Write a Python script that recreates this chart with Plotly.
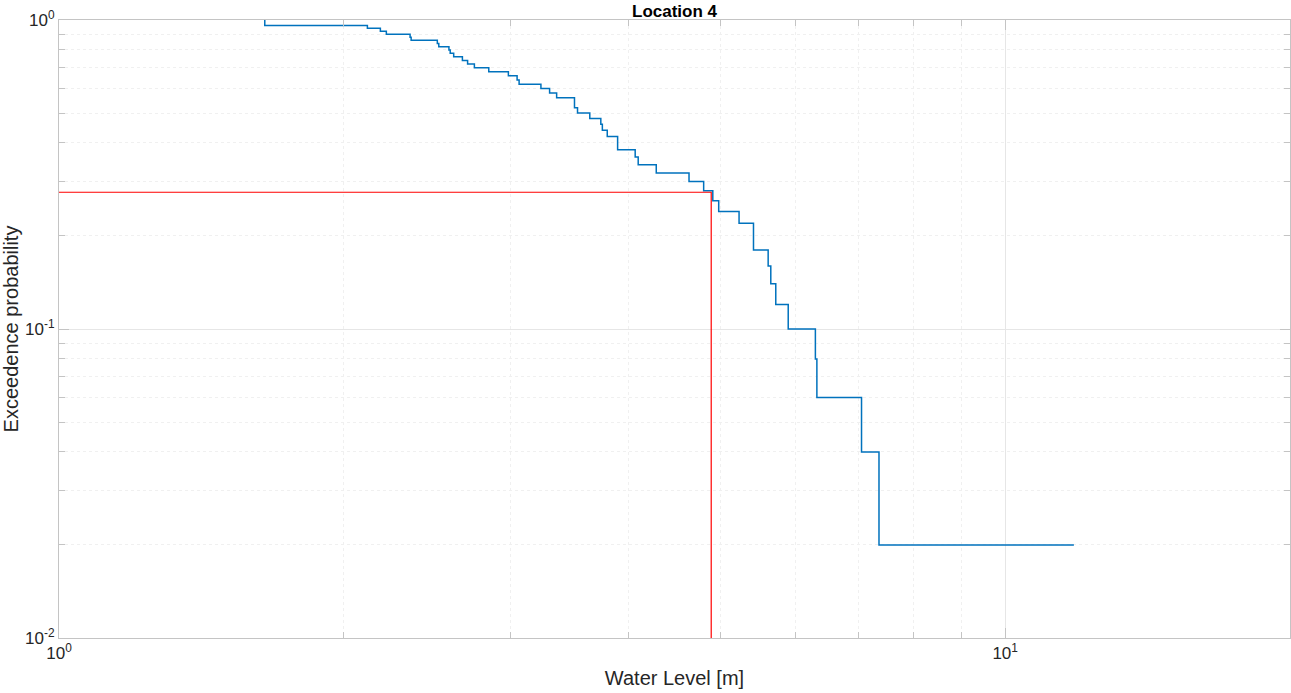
import plotly.graph_objects as go

# sorted water levels [m] and their exceedance probability (stairs, MATLAB style)
water_level = [1.650, 1.650, 2.118, 2.186, 2.218, 2.350, 2.356, 2.511, 2.520, 2.583,
               2.591, 2.613, 2.669, 2.703, 2.748, 2.846, 2.985, 3.049, 3.064, 3.231,
               3.300, 3.357, 3.506, 3.532, 3.639, 3.738, 3.752, 3.797, 3.894, 4.064,
               4.094, 4.278, 4.633, 4.801, 4.909, 4.980, 5.233, 5.420, 5.617, 5.653,
               5.722, 5.898, 6.301, 6.324, 7.050, 7.356, 11.82]
exceed_prob = [1.00, 0.96, 0.94, 0.92, 0.90, 0.88, 0.86, 0.84, 0.82, 0.80,
               0.78, 0.76, 0.74, 0.72, 0.70, 0.68, 0.66, 0.64, 0.62, 0.60,
               0.58, 0.56, 0.52, 0.50, 0.48, 0.46, 0.44, 0.42, 0.38, 0.36,
               0.34, 0.32, 0.30, 0.28, 0.26, 0.24, 0.22, 0.18, 0.16, 0.14,
               0.12, 0.10, 0.08, 0.06, 0.04, 0.02, 0.02]

# design level marker (red)
design_x = [1.0, 4.89, 4.89]
design_y = [0.277, 0.277, 0.01]

x_major = [1, 10]
x_major_text = ['10<sup>0</sup>', '10<sup>1</sup>']
x_minor = [2, 3, 4, 5, 6, 7, 8, 9, 20]
y_major = [0.01, 0.1, 1]
y_major_text = ['10<sup>-2</sup>', '10<sup>-1</sup>', '10<sup>0</sup>']
y_minor = [0.02, 0.03, 0.04, 0.05, 0.06, 0.07, 0.08, 0.09,
           0.2, 0.3, 0.4, 0.5, 0.6, 0.7, 0.8, 0.9]

FONT = 'Liberation Sans, Arial'

fig = go.Figure()
fig.add_trace(go.Scatter(x=water_level, y=exceed_prob, mode='lines',
                         line=dict(color='#0072BD', width=1.5, shape='hv'),
                         showlegend=False))
fig.add_trace(go.Scatter(x=design_x, y=design_y, mode='lines',
                         line=dict(color='#FF0000', width=1.2),
                         showlegend=False))

axis_common = dict(
    showline=True, linecolor='#c4c4c4', linewidth=1, mirror='allticks',
    ticks='inside', ticklen=10, tickcolor='#c4c4c4',
    showgrid=True, gridcolor='#e6e6e6', gridwidth=1,
    zeroline=False, automargin=False,
    tickfont=dict(family=FONT, size=17, color='#262626'),
)
minor_common = dict(tickmode='array', ticks='inside', ticklen=6, tickcolor='#c4c4c4',
                    showgrid=True, gridcolor='#f0f0f0', griddash='dot')

fig.update_xaxes(type='log', range=[0, 1.30103],
                 tickmode='array', tickvals=x_major, ticktext=x_major_text,
                 minor=dict(tickvals=x_minor, **minor_common),
                 title=dict(text='Water Level [m]', standoff=8,
                            font=dict(family=FONT, size=20, color='#262626')),
                 **axis_common)
fig.update_yaxes(type='log', range=[-2, 0],
                 tickmode='array', tickvals=y_major, ticktext=y_major_text,
                 minor=dict(tickvals=y_minor, **minor_common),
                 title=dict(text='Exceedence probability', standoff=3,
                            font=dict(family=FONT, size=20, color='#262626')),
                 **axis_common)

fig.update_layout(
    width=1291, height=693,
    margin=dict(l=59, r=1, t=20, b=55),
    paper_bgcolor='white', plot_bgcolor='white',
    title=dict(text='<b>Location 4</b>', x=0.5225, xanchor='center',
               y=1, yref='paper', yanchor='bottom', pad=dict(b=3),
               font=dict(family=FONT, size=17, color='black')),
)

fig.write_html("out.html", config={'displayModeBar': False},
               post_script="document.body.style.margin='0';document.body.style.overflow='hidden';")
